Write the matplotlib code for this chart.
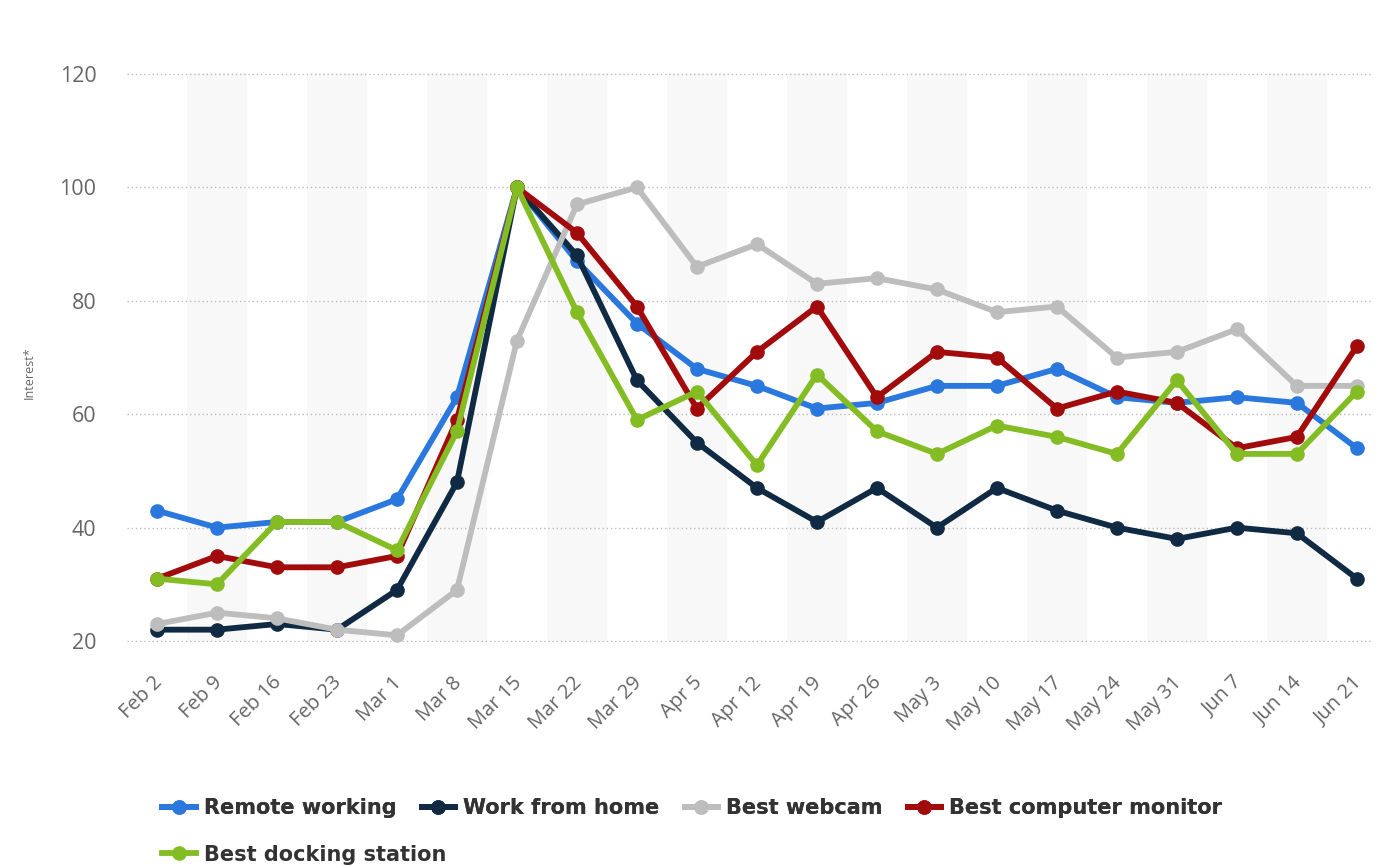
import matplotlib.pyplot as plt
import matplotlib.transforms as mtransforms
from matplotlib.lines import Line2D

# Weekly search interest, Feb 2 - Jun 21
weeks = ["Feb 2", "Feb 9", "Feb 16", "Feb 23", "Mar 1", "Mar 8", "Mar 15",
         "Mar 22", "Mar 29", "Apr 5", "Apr 12", "Apr 19", "Apr 26", "May 3",
         "May 10", "May 17", "May 24", "May 31", "Jun 7", "Jun 14", "Jun 21"]

remote_working = [43, 40, 41, 41, 45, 63, 100, 87, 76, 68, 65, 61, 62, 65,
                  65, 68, 63, 62, 63, 62, 54]
work_from_home = [22, 22, 23, 22, 29, 48, 100, 88, 66, 55, 47, 41, 47, 40,
                  47, 43, 40, 38, 40, 39, 31]
best_webcam = [23, 25, 24, 22, 21, 29, 73, 97, 100, 86, 90, 83, 84, 82,
               78, 79, 70, 71, 75, 65, 65]
best_monitor = [31, 35, 33, 33, 35, 59, 100, 92, 79, 61, 71, 79, 63, 71,
                70, 61, 64, 62, 54, 56, 72]
best_docking = [31, 30, 41, 41, 36, 57, 100, 78, 59, 64, 51, 67, 57, 53,
                58, 56, 53, 66, 53, 53, 64]

series_names = ["Remote working", "Work from home", "Best webcam",
                "Best computer monitor", "Best docking station"]
series_values = [remote_working, work_from_home, best_webcam, best_monitor, best_docking]
colors = ["#2a78de", "#0f2a42", "#bdbdbd", "#a20b0b", "#84bc24"]

plt.rcParams['font.family'] = ['Open Sans', 'DejaVu Sans']

fig = plt.figure(figsize=(13.76, 8.66), dpi=100)
ax = fig.add_axes([0.0923, 0.2585, 0.9047, 0.6573])

x = list(range(len(weeks)))

# alternating background bands
for i in x:
    if i % 2 == 1:
        ax.axvspan(i - 0.5, i + 0.5, color="#f8f8f8", zorder=0, lw=0)

handles = []
for name, vals, c in zip(series_names, series_values, colors):
    ax.plot(x, vals, color=c, lw=4.2, marker='o', markersize=9.5,
            clip_on=False, zorder=3, solid_joinstyle='round')
    handles.append(Line2D([0], [0], color=c, lw=4.2, marker='o', markersize=9.5, label=name))

ax.set_xlim(-0.5, 20.25)
ax.set_ylim(19.8, 120.2)
ax.set_yticks([20, 40, 60, 80, 100, 120])
ax.grid(axis='y', linestyle=(0, (1, 2)), color="#bbbbbb", lw=1)
ax.set_axisbelow(True)
for s in ax.spines.values():
    s.set_visible(False)

ax.set_xticks(x)
ax.set_xticklabels(weeks, rotation=45, ha='right', rotation_mode='anchor',
                   fontsize=14.5, color="#666666")
ax.tick_params(axis='x', length=0, pad=22)
ax.tick_params(axis='y', length=0, pad=22, labelsize=15.5, labelcolor="#666666")
shift = mtransforms.ScaledTranslation(-5 / 100, 0, fig.dpi_scale_trans)
for lbl in ax.get_xticklabels():
    lbl.set_transform(lbl.get_transform() + shift)

fig.text(0.021, 0.57, "Interest*", rotation=90, fontsize=9, color="#666666",
         ha='center', va='center')

leg_kw = dict(frameon=False, handlelength=1.6, handletextpad=0.4,
              columnspacing=1.2,
              prop={'family': 'DejaVu Sans', 'weight': 'bold', 'size': 15},
              labelcolor="#333333", borderaxespad=0, borderpad=0)
leg1 = fig.legend(handles=handles[:4], ncol=4, loc='center left',
                  bbox_to_anchor=(0.118, 0.067), **leg_kw)
fig.add_artist(leg1)
fig.legend(handles=handles[4:], ncol=1, loc='center left',
           bbox_to_anchor=(0.118, 0.013), **leg_kw)

fig.savefig("out.png", dpi=100)
